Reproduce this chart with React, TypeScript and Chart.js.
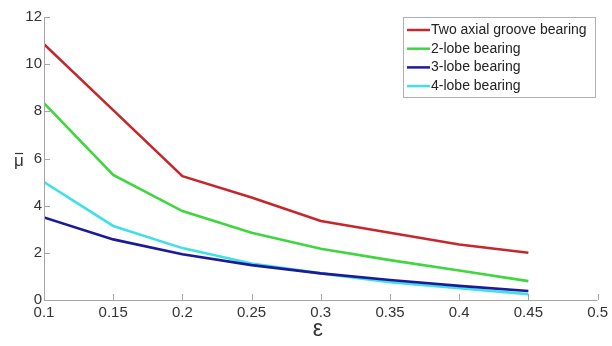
import React, { useEffect, useRef } from "react";
import { Chart, registerables } from "chart.js";

Chart.register(...registerables);

const epsilon = [0.1, 0.15, 0.2, 0.25, 0.3, 0.35, 0.4, 0.45];
const twoAxialGroove = [10.85, 8.05, 5.25, 4.35, 3.35, 2.85, 2.35, 2.0];
const twoLobe = [8.35, 5.3, 3.77, 2.85, 2.17, 1.69, 1.25, 0.8];
const threeLobe = [3.5, 2.57, 1.94, 1.48, 1.13, 0.85, 0.6, 0.38];
const fourLobe = [5.0, 3.14, 2.2, 1.55, 1.13, 0.75, 0.5, 0.25];
const seriesNames = ["Two axial groove bearing", "2-lobe bearing", "3-lobe bearing", "4-lobe bearing"];
const seriesColors = ["#c4282c", "#3fd63f", "#1b1b9a", "#40e0e6"];
const xTicks = [0.1, 0.15, 0.2, 0.25, 0.3, 0.35, 0.4, 0.45, 0.5];
const yTicks = [0, 2, 4, 6, 8, 10, 12];

const FONT = "Arial, 'Liberation Sans', sans-serif";

const decorPlugin = {
  id: "decor",
  afterDraw(chart: any) {
    const ctx = chart.ctx;
    const { left, right, top, bottom } = chart.chartArea;
    const xs = chart.scales.x;
    const ys = chart.scales.y;
    ctx.save();
    // axes lines
    ctx.strokeStyle = "#a6a6a6";
    ctx.lineWidth = 1;
    ctx.beginPath();
    ctx.moveTo(left + 0.5, top);
    ctx.lineTo(left + 0.5, bottom + 0.5);
    ctx.lineTo(right, bottom + 0.5);
    ctx.stroke();
    // inward ticks
    ctx.beginPath();
    xTicks.forEach((v) => {
      const px = Math.round(xs.getPixelForValue(v)) + 0.5;
      ctx.moveTo(px, bottom);
      ctx.lineTo(px, bottom - 6);
    });
    yTicks.forEach((v) => {
      const py = Math.round(ys.getPixelForValue(v)) + 0.5;
      ctx.moveTo(left, py);
      ctx.lineTo(left + 6, py);
    });
    ctx.stroke();
    // axis titles
    ctx.fillStyle = "#333";
    ctx.textAlign = "center";
    ctx.textBaseline = "middle";
    ctx.font = `17px ${FONT}`;
    ctx.fillText("\u03BC", 19, 161);
    ctx.strokeStyle = "#333";
    ctx.lineWidth = 1.2;
    ctx.beginPath();
    ctx.moveTo(15, 153.5);
    ctx.lineTo(23, 153.5);
    ctx.stroke();
    ctx.font = `23px ${FONT}`;
    ctx.fillText("\u03B5", (left + right) / 2 - 3, 330);
    // legend
    const lx = 403, ly = 17, lw = 192, lh = 80;
    ctx.fillStyle = "#fff";
    ctx.fillRect(lx, ly, lw, lh);
    ctx.strokeStyle = "#b0b0b0";
    ctx.lineWidth = 1;
    ctx.strokeRect(lx + 0.5, ly + 0.5, lw, lh);
    ctx.font = `14px ${FONT}`;
    ctx.textAlign = "left";
    chart.data.datasets.forEach((ds: any, i: number) => {
      const yy = 30 + i * 18.7;
      ctx.strokeStyle = ds.borderColor;
      ctx.lineWidth = 2.5;
      ctx.beginPath();
      ctx.moveTo(407, yy);
      ctx.lineTo(430, yy);
      ctx.stroke();
      ctx.fillStyle = "#222";
      ctx.fillText(ds.label, 431, yy);
    });
    ctx.restore();
  },
};

export default function App() {
  const ref = useRef<HTMLCanvasElement>(null);
  useEffect(() => {
    document.body.style.margin = "0";
    const allSeries = [twoAxialGroove, twoLobe, threeLobe, fourLobe];
    const chart = new Chart(ref.current!, {
      type: "line",
      data: {
        datasets: allSeries.map((s, i) => ({
          label: seriesNames[i],
          data: s.map((v, j) => ({ x: epsilon[j], y: v })),
          borderColor: seriesColors[i],
          backgroundColor: seriesColors[i],
          borderWidth: 2.6,
          pointRadius: 0,
          tension: 0,
        })),
      },
      options: {
        animation: false,
        responsive: false,
        layout: { padding: { top: 17, right: 14, left: 0, bottom: 0 } },
        plugins: { legend: { display: false }, tooltip: { enabled: false } },
        scales: {
          x: {
            type: "linear",
            min: 0.1,
            max: 0.5,
            afterBuildTicks: (s: any) => {
              s.ticks = xTicks.map((v) => ({ value: v }));
            },
            afterFit: (s: any) => {
              s.height = 46;
            },
            grid: { display: false, drawTicks: false },
            border: { display: false },
            ticks: {
              padding: 4,
              color: "#333",
              font: { family: FONT, size: 15 },
              maxRotation: 0,
              autoSkip: false,
              callback: (v: any) => String(Number(v)),
            },
          },
          y: {
            type: "linear",
            min: 0,
            max: 12,
            afterBuildTicks: (s: any) => {
              s.ticks = yTicks.map((v) => ({ value: v }));
            },
            afterFit: (s: any) => {
              s.width = 44;
            },
            grid: { display: false, drawTicks: false },
            border: { display: false },
            ticks: {
              padding: 2,
              color: "#333",
              font: { family: FONT, size: 15 },
              callback: (v: any) => String(v),
            },
          },
        },
      },
      plugins: [decorPlugin],
    });
    return () => chart.destroy();
  }, []);
  return (
    <div style={{ width: 612, height: 346 }}>
      <canvas ref={ref} width={612} height={346} style={{ display: "block" }} />
    </div>
  );
}
